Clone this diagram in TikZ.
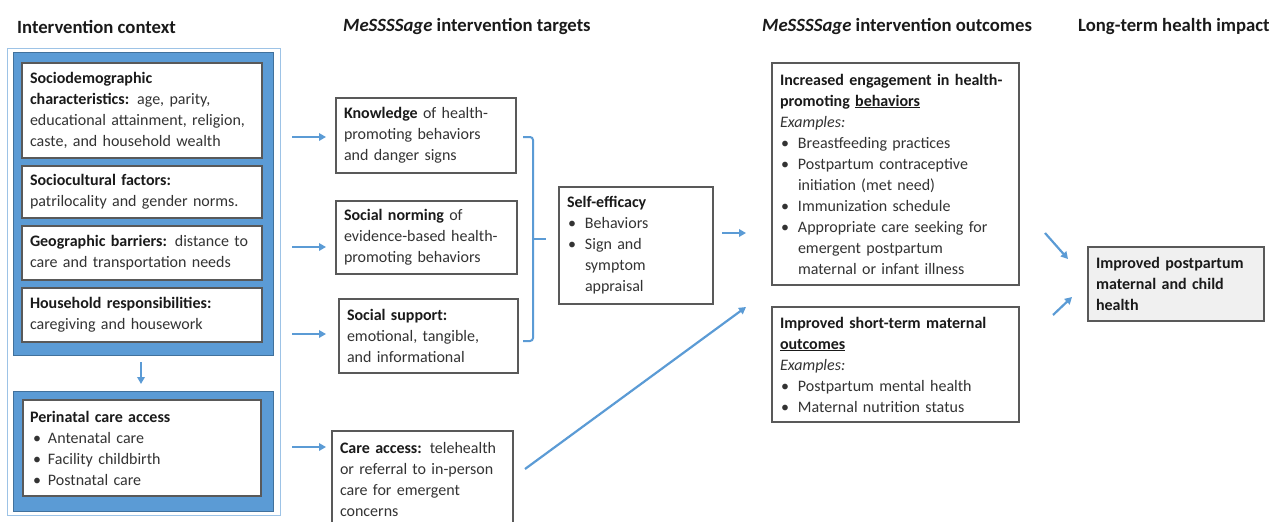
\documentclass[tikz,border=0pt]{standalone}
\usepackage{fontspec}
\setmainfont{Carlito}
\usetikzlibrary{arrows.meta}
\definecolor{mblue}{HTML}{5B9BD5}
\definecolor{dblue}{HTML}{41719C}
\definecolor{lblue}{HTML}{9DC3E6}
\definecolor{txt}{HTML}{333333}
\definecolor{hd}{HTML}{1A1A1A}
\definecolor{finfill}{HTML}{F0F0F0}
\newcommand\itm[2][1pt]{\par\hangindent=18pt\hangafter=1\noindent\makebox[18pt][l]{\hspace*{#1}\textbullet}#2\par}
\tikzset{
  box/.style={draw=black!65, line width=1.2pt, fill=white, text=txt, align=left,
    inner xsep=8pt, inner ysep=0pt, font=\fontsize{16}{21}\selectfont},
  bx/.style 2 args={box, text width=#1pt, minimum height=#2pt},
  bluebg/.style={fill=mblue, draw=dblue, line width=0.8pt, minimum width=260pt},
  outerbox/.style={draw=lblue, line width=1pt},
  arr/.style={draw=mblue, line width=2.2pt, -{Triangle[length=7pt,width=7.5pt]}},
  brk/.style={draw=mblue, line width=2pt, rounded corners=3pt},
  head/.style={anchor=west, inner sep=0pt, text=hd, font=\fontsize{18.7}{22}\selectfont\bfseries},
}
\begin{document}
\begin{tikzpicture}[x=1pt, y=-1pt]
\useasboundingbox (0,0) rectangle (1275,522);
\clip (0,0) rectangle (1275,522);

% headings
\node[head] (h1) at (17,27) {Intervention context};
\node[head] (h2) at (343,27) {\textit{MeSSSSage} intervention targets};
\node[head] (h3) at (762,27) {\textit{MeSSSSage} intervention outcomes};
\node[head] (h4) at (1078,27) {Long-term health impact};

% left column
\node[outerbox, minimum width=273pt, minimum height=467pt] (outer) at (143.5,281.5) {};
\node[bluebg, minimum height=303pt] (blue1) at (143,203.5) {};
\node[bluebg, minimum height=120pt] (blue2) at (143,451) {};

\node[bx={224}{95}] (sd) at (142,110.5) {\textbf{\color{hd}Sociodemographic}\\ \textbf{\color{hd}characteristics:} age, parity,\\ educational attainment, religion,\\ caste, and household wealth};
\node[bx={224}{52}] (sc) at (142,192) {\textbf{\color{hd}Sociocultural factors:}\\ patrilocality and gender norms.};
\node[bx={224}{54}] (geo) at (142,253) {\textbf{\color{hd}Geographic barriers:} distance to\\ care and transportation needs};
\node[bx={224}{54}] (hh) at (142,315) {\textbf{\color{hd}Household responsibilities:}\\ caregiving and housework};
\node[bx={224}{96}, inner xsep=7pt] (peri) at (142,448) {\textbf{\color{hd}Perinatal care access}\itm[3pt]{Antenatal care}\itm[3pt]{Facility childbirth}\itm[3pt]{Postnatal care}};

\coordinate (d1) at (141,362);
\coordinate (d2) at (141,384);
\draw[arr] (d1) -- (d2);

% middle column
\node[bx={164}{75}] (know) at (426,135.5) {\textbf{\color{hd}Knowledge} of health-\\ promoting behaviors\\ and danger signs};
\node[bx={165}{73}] (norm) at (426.5,237.5) {\textbf{\color{hd}Social norming} of\\ evidence-based health-\\ promoting behaviors};
\node[bx={163}{74}] (supp) at (428.5,336) {\textbf{\color{hd}Social support:}\\ emotional, tangible,\\ and informational};
\node[bx={165}{96}] (care) at (422.5,479) {\textbf{\color{hd}Care access:} telehealth\\ or referral to in-person\\ care for emergent\\ concerns};

\coordinate (a1s) at (292,137); \coordinate (a1e) at (326,137);
\coordinate (a2s) at (292,247); \coordinate (a2e) at (326,247);
\coordinate (a3s) at (292,334); \coordinate (a3e) at (326,334);
\coordinate (a4s) at (292,447); \coordinate (a4e) at (326,447);
\draw[arr] (a1s) -- (a1e);
\draw[arr] (a2s) -- (a2e);
\draw[arr] (a3s) -- (a3e);
\draw[arr] (a4s) -- (a4e);

% bracket
\coordinate (bt) at (523,137);
\coordinate (bb) at (523,341);
\coordinate (bm) at (546,239);
\draw[brk] (bt) -- (533,137) -- (533,341) -- (bb);
\draw[draw=mblue, line width=2pt] (533,239) -- (bm);

\node[bx={138}{117}] (self) at (636,245.5) {\textbf{\color{hd}Self-efficacy}\itm{Behaviors}\itm{Sign and\newline symptom\newline appraisal}};

% outcomes
\node[bx={231}{222}] (out1) at (895.5,174) {\textbf{\color{hd}Increased engagement in health-}\\ \textbf{\color{hd}promoting \underline{behaviors}}\\ \textit{Examples:}\itm{Breastfeeding practices}\itm{Postpartum contraceptive\newline initiation (met need)}\itm{Immunization schedule}\itm{Appropriate care seeking for\newline emergent postpartum\newline maternal or infant illness}};
\node[bx={231}{115}] (out2) at (895.5,364.5) {\textbf{\color{hd}Improved short-term maternal}\\ \textbf{\color{hd}\underline{outcomes}}\\ \textit{Examples:}\itm{Postpartum mental health}\itm{Maternal nutrition status}};

\coordinate (s1) at (722,233); \coordinate (s2) at (746,233);
\draw[arr] (s1) -- (s2);
\coordinate (c1) at (525,469); \coordinate (c2) at (746,307);
\draw[arr] (c1) -- (c2);

% final
\node[bx={160}{74}, fill=finfill] (fin) at (1176,284) {\textbf{\color{hd}Improved postpartum}\\ \textbf{\color{hd}maternal and child}\\ \textbf{\color{hd}health}};
\coordinate (f1) at (1045,233); \coordinate (f2) at (1068,259);
\coordinate (g1) at (1053,315); \coordinate (g2) at (1072,297);
\draw[arr] (f1) -- (f2);
\draw[arr] (g1) -- (g2);
\end{tikzpicture}
\end{document}
